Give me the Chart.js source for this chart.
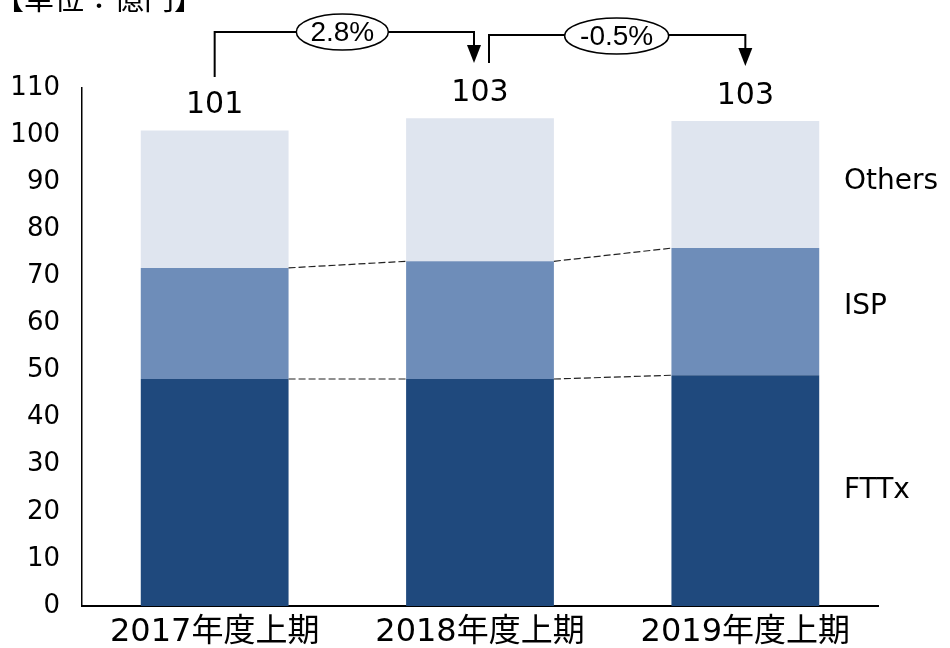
<!DOCTYPE html>
<html>
<head>
<meta charset="utf-8">
<script src="https://cdn.jsdelivr.net/npm/chart.js@4"></script>
<style>
  html, body { margin: 0; padding: 0; background: #fff; }
  #wrap { width: 950px; height: 648px; position: relative; }
</style>
</head>
<body>
<div id="wrap"><canvas id="graf"></canvas></div>
<script>
// dados (億円)
const categorias = ["2017年度上期", "2018年度上期", "2019年度上期"];
const fttx = [48.2, 48.2, 49.0];
const isp = [23.6, 25.0, 27.0];
const others = [29.2, 30.4, 27.0];
const totais = ["101", "103", "103"];
const variacoes = ["2.8%", "-0.5%"];
const yTicks = [0, 10, 20, 30, 40, 50, 60, 70, 80, 90, 100, 110];

const FONTE = "'DejaVu Sans', 'Noto Sans CJK JP', sans-serif";

/* Plugin: linhas tracejadas, totais, rótulos das séries e setas de variação */
const anotacoes = {
  id: "anotacoes",
  afterDatasetsDraw(chart) {
    const ctx = chart.ctx;
    const metas = [0, 1, 2].map(i => chart.getDatasetMeta(i).data);

    // linhas tracejadas entre topos de FTTx e ISP
    ctx.save();
    ctx.strokeStyle = "#222";
    ctx.lineWidth = 1.2;
    ctx.setLineDash([7, 3]);
    [0, 1].forEach(s => {
      for (let j = 0; j < metas[s].length - 1; j++) {
        const a = metas[s][j], b = metas[s][j + 1];
        ctx.beginPath();
        ctx.moveTo(a.x + a.width / 2, a.y);
        ctx.lineTo(b.x - b.width / 2, b.y);
        ctx.stroke();
      }
    });
    ctx.restore();

    // totais acima das barras
    ctx.save();
    ctx.fillStyle = "#000";
    ctx.font = "30px " + FONTE;
    ctx.textAlign = "center";
    ctx.textBaseline = "middle";
    metas[2].forEach((el, j) => ctx.fillText(totais[j], el.x, el.y - 25));
    ctx.restore();

    // rótulos das séries à direita
    const xs = chart.scales.x.right - 34;
    const yPx = chart.scales.y;
    ctx.save();
    ctx.fillStyle = "#000";
    ctx.font = "28px " + FONTE;
    ctx.textBaseline = "middle";
    ctx.fillText("Others", xs, yPx.getPixelForValue(90));
    ctx.fillText("ISP", xs, yPx.getPixelForValue(63.5));
    ctx.fillText("FTTx", xs, yPx.getPixelForValue(24.5));
    ctx.restore();

    // setas de variação
    const c = metas[2].map(el => el.x);
    const seta = (x0, y0, yTop, x1, y1) => {
      ctx.beginPath();
      ctx.moveTo(x0, y0);
      ctx.lineTo(x0, yTop);
      ctx.lineTo(x1, yTop);
      ctx.lineTo(x1, y1 - 16);
      ctx.stroke();
      ctx.beginPath();
      ctx.moveTo(x1 - 7, y1 - 18);
      ctx.lineTo(x1 + 7, y1 - 18);
      ctx.lineTo(x1, y1);
      ctx.closePath();
      ctx.fill();
    };
    const elipse = (cx, cy, rx, ry, txt) => {
      ctx.beginPath();
      ctx.ellipse(cx, cy, rx, ry, 0, 0, Math.PI * 2);
      ctx.fillStyle = "#fff";
      ctx.fill();
      ctx.stroke();
      ctx.fillStyle = "#000";
      ctx.fillText(txt, cx, cy + 1);
    };
    ctx.save();
    ctx.strokeStyle = "#000";
    ctx.fillStyle = "#000";
    ctx.lineWidth = 2;
    seta(c[0], 77, 32, c[1] - 6, 63);
    seta(c[1] + 9, 63, 35, c[2], 66);
    ctx.lineWidth = 1.5;
    ctx.font = "28px 'Liberation Sans', sans-serif";
    ctx.textAlign = "center";
    ctx.textBaseline = "middle";
    elipse((c[0] + c[1]) / 2 - 5, 32, 46, 18, variacoes[0]);
    elipse((c[1] + c[2]) / 2 + 4, 36, 52, 18, variacoes[1]);
    ctx.restore();

    // unidade (cortada no topo, como no original)
    ctx.save();
    ctx.fillStyle = "#000";
    ctx.font = "30px " + FONTE;
    ctx.textBaseline = "alphabetic";
    ctx.fillText("【単位：億円】", -6, 9);
    ctx.restore();
  }
};

const ctx = document.getElementById("graf");

new Chart(ctx, {
  type: "bar",
  plugins: [anotacoes],
  data: {
    labels: categorias,
    datasets: [
      { label: "FTTx", data: fttx, backgroundColor: "#1F497D" },
      { label: "ISP", data: isp, backgroundColor: "#6E8DB9" },
      { label: "Others", data: others, backgroundColor: "#DFE5EF" }
    ]
  },
  options: {
    responsive: true,
    maintainAspectRatio: false,
    animation: false,
    layout: { padding: { top: 88, right: 72, left: 0, bottom: 0 } },
    datasets: { bar: { barPercentage: 0.557, categoryPercentage: 1 } },
    plugins: {
      legend: { display: false },
      tooltip: { enabled: false }
    },
    scales: {
      x: {
        stacked: true,
        grid: { display: false, drawTicks: false },
        border: { color: "#000", width: 2 },
        ticks: { color: "#000", font: { size: 32, family: FONTE }, padding: 7 },
        afterFit: s => { s.height = 42; }
      },
      y: {
        stacked: true,
        min: 0,
        max: 110,
        afterBuildTicks: s => { s.ticks = yTicks.map(v => ({ value: v })); },
        grid: { display: false, drawTicks: false },
        border: { color: "#000", width: 1.5 },
        ticks: { color: "#000", font: { size: 26, family: FONTE }, padding: 22 },
        afterFit: s => { s.width = 82; }
      }
    }
  }
});
</script>
</body>
</html>
